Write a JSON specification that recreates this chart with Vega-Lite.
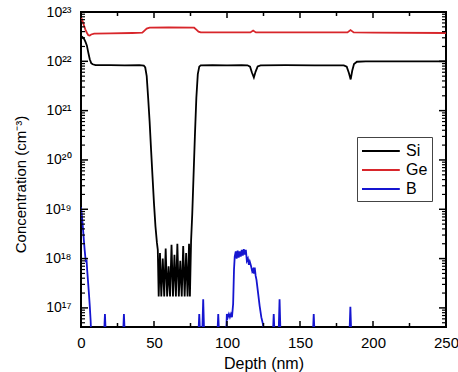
{
  "$schema": "https://vega.github.io/schema/vega-lite/v6.json",
  "width": 365,
  "height": 315,
  "autosize": {"type": "none"},
  "padding": {"left": 81, "top": 12, "right": 12, "bottom": 45},
  "background": "white",
  "config": {
    "view": {"stroke": "black", "strokeWidth": 2},
    "font": "Liberation Sans",
    "axis": {
      "grid": false,
      "domain": false,
      "ticks": false,
      "labelColor": "black",
      "titleColor": "black",
      "labelFont": "Liberation Sans",
      "titleFont": "Liberation Sans",
      "titleFontWeight": "normal"
    }
  },
  "datasets": {
    "profiles": [
      {"series": "Si", "depth": 0, "conc": 2.8e22},
      {"series": "Si", "depth": 1, "conc": 3.1e22},
      {"series": "Si", "depth": 2, "conc": 2.9e22},
      {"series": "Si", "depth": 3, "conc": 2.5e22},
      {"series": "Si", "depth": 4, "conc": 2.1e22},
      {"series": "Si", "depth": 5, "conc": 1.5e22},
      {"series": "Si", "depth": 6, "conc": 1.1e22},
      {"series": "Si", "depth": 7, "conc": 9.2e21},
      {"series": "Si", "depth": 8, "conc": 8.7e21},
      {"series": "Si", "depth": 10, "conc": 8.4e21},
      {"series": "Si", "depth": 20, "conc": 8.4e21},
      {"series": "Si", "depth": 30, "conc": 8.3e21},
      {"series": "Si", "depth": 40, "conc": 8.4e21},
      {"series": "Si", "depth": 43, "conc": 8.2e21},
      {"series": "Si", "depth": 44, "conc": 7.5e21},
      {"series": "Si", "depth": 45, "conc": 5e21},
      {"series": "Si", "depth": 46, "conc": 1.8e21},
      {"series": "Si", "depth": 47, "conc": 6e20},
      {"series": "Si", "depth": 48, "conc": 1.6e20},
      {"series": "Si", "depth": 49, "conc": 4.5e19},
      {"series": "Si", "depth": 50, "conc": 1.3e19},
      {"series": "Si", "depth": 51, "conc": 4.5e18},
      {"series": "Si", "depth": 52, "conc": 2.1e18},
      {"series": "Si", "depth": 52.6, "conc": 1.5e18},
      {"series": "Si", "depth": 53.2, "conc": 1.7e17},
      {"series": "Si", "depth": 54.1, "conc": 1.3e18},
      {"series": "Si", "depth": 55, "conc": 1.7e17},
      {"series": "Si", "depth": 56, "conc": 1.0e18},
      {"series": "Si", "depth": 57, "conc": 1.7e17},
      {"series": "Si", "depth": 58, "conc": 1.6e18},
      {"series": "Si", "depth": 59, "conc": 1.7e17},
      {"series": "Si", "depth": 60, "conc": 7e17},
      {"series": "Si", "depth": 61, "conc": 1.7e17},
      {"series": "Si", "depth": 62, "conc": 1.9e18},
      {"series": "Si", "depth": 63, "conc": 1.7e17},
      {"series": "Si", "depth": 64, "conc": 1.2e18},
      {"series": "Si", "depth": 65, "conc": 1.7e17},
      {"series": "Si", "depth": 66, "conc": 2e18},
      {"series": "Si", "depth": 67, "conc": 1.7e17},
      {"series": "Si", "depth": 68, "conc": 9e17},
      {"series": "Si", "depth": 69, "conc": 1.7e17},
      {"series": "Si", "depth": 70, "conc": 1.8e18},
      {"series": "Si", "depth": 71, "conc": 1.7e17},
      {"series": "Si", "depth": 72, "conc": 1.3e18},
      {"series": "Si", "depth": 73, "conc": 1.7e17},
      {"series": "Si", "depth": 74, "conc": 2e18},
      {"series": "Si", "depth": 74.6, "conc": 1.7e17},
      {"series": "Si", "depth": 75.4, "conc": 2.3e18},
      {"series": "Si", "depth": 76.2, "conc": 8e18},
      {"series": "Si", "depth": 77, "conc": 4e19},
      {"series": "Si", "depth": 78, "conc": 3e20},
      {"series": "Si", "depth": 79, "conc": 1.8e21},
      {"series": "Si", "depth": 80, "conc": 5.5e21},
      {"series": "Si", "depth": 81, "conc": 7.8e21},
      {"series": "Si", "depth": 82, "conc": 8.3e21},
      {"series": "Si", "depth": 90, "conc": 8.4e21},
      {"series": "Si", "depth": 100, "conc": 8.3e21},
      {"series": "Si", "depth": 110, "conc": 8.4e21},
      {"series": "Si", "depth": 114, "conc": 8.3e21},
      {"series": "Si", "depth": 115.8, "conc": 7.8e21},
      {"series": "Si", "depth": 117, "conc": 6e21},
      {"series": "Si", "depth": 118.4, "conc": 4.7e21},
      {"series": "Si", "depth": 119.6, "conc": 6.2e21},
      {"series": "Si", "depth": 121, "conc": 7.9e21},
      {"series": "Si", "depth": 123, "conc": 8.3e21},
      {"series": "Si", "depth": 140, "conc": 8.4e21},
      {"series": "Si", "depth": 160, "conc": 8.3e21},
      {"series": "Si", "depth": 180, "conc": 8.3e21},
      {"series": "Si", "depth": 182, "conc": 7.8e21},
      {"series": "Si", "depth": 183.5, "conc": 5.8e21},
      {"series": "Si", "depth": 184.7, "conc": 4.3e21},
      {"series": "Si", "depth": 185.8, "conc": 6.5e21},
      {"series": "Si", "depth": 187, "conc": 8.8e21},
      {"series": "Si", "depth": 189, "conc": 9.8e21},
      {"series": "Si", "depth": 195, "conc": 1e22},
      {"series": "Si", "depth": 220, "conc": 1e22},
      {"series": "Si", "depth": 250, "conc": 1e22},

      {"series": "Ge", "depth": 0, "conc": 7.8e22},
      {"series": "Ge", "depth": 1, "conc": 6.6e22},
      {"series": "Ge", "depth": 2, "conc": 5.4e22},
      {"series": "Ge", "depth": 3, "conc": 4.4e22},
      {"series": "Ge", "depth": 4, "conc": 3.8e22},
      {"series": "Ge", "depth": 5, "conc": 3.4e22},
      {"series": "Ge", "depth": 6, "conc": 3.35e22},
      {"series": "Ge", "depth": 7, "conc": 3.5e22},
      {"series": "Ge", "depth": 9, "conc": 3.65e22},
      {"series": "Ge", "depth": 20, "conc": 3.7e22},
      {"series": "Ge", "depth": 35, "conc": 3.75e22},
      {"series": "Ge", "depth": 42, "conc": 3.8e22},
      {"series": "Ge", "depth": 43.5, "conc": 4.2e22},
      {"series": "Ge", "depth": 45, "conc": 4.6e22},
      {"series": "Ge", "depth": 47, "conc": 4.8e22},
      {"series": "Ge", "depth": 60, "conc": 4.85e22},
      {"series": "Ge", "depth": 77.5, "conc": 4.8e22},
      {"series": "Ge", "depth": 79, "conc": 4.4e22},
      {"series": "Ge", "depth": 80.5, "conc": 4.0e22},
      {"series": "Ge", "depth": 82, "conc": 3.85e22},
      {"series": "Ge", "depth": 100, "conc": 3.85e22},
      {"series": "Ge", "depth": 116, "conc": 3.85e22},
      {"series": "Ge", "depth": 117.9, "conc": 4.2e22},
      {"series": "Ge", "depth": 119.8, "conc": 3.85e22},
      {"series": "Ge", "depth": 150, "conc": 3.85e22},
      {"series": "Ge", "depth": 182.5, "conc": 3.85e22},
      {"series": "Ge", "depth": 184.6, "conc": 4.3e22},
      {"series": "Ge", "depth": 186.8, "conc": 3.85e22},
      {"series": "Ge", "depth": 200, "conc": 3.8e22},
      {"series": "Ge", "depth": 250, "conc": 3.75e22},

      {"series": "B", "depth": 0, "conc": 1.1e19},
      {"series": "B", "depth": 0.5, "conc": 8e18},
      {"series": "B", "depth": 1, "conc": 5.5e18},
      {"series": "B", "depth": 1.5, "conc": 3.6e18},
      {"series": "B", "depth": 2, "conc": 2.3e18},
      {"series": "B", "depth": 2.5, "conc": 1.5e18},
      {"series": "B", "depth": 3, "conc": 1.05e18},
      {"series": "B", "depth": 3.4, "conc": 8.5e17},
      {"series": "B", "depth": 3.8, "conc": 9.5e17},
      {"series": "B", "depth": 4.2, "conc": 6e17},
      {"series": "B", "depth": 4.8, "conc": 3.5e17},
      {"series": "B", "depth": 5.4, "conc": 2e17},
      {"series": "B", "depth": 6, "conc": 1.1e17},
      {"series": "B", "depth": 6.6, "conc": 5.5e16},
      {"series": "B", "depth": 7.2, "conc": 2e16},
      {"series": "B", "depth": 15.6, "conc": 2e16},
      {"series": "B", "depth": 16.4, "conc": 7.5e16},
      {"series": "B", "depth": 17.2, "conc": 2e16},
      {"series": "B", "depth": 28.6, "conc": 2e16},
      {"series": "B", "depth": 29.4, "conc": 7.5e16},
      {"series": "B", "depth": 30.2, "conc": 2e16},
      {"series": "B", "depth": 80.2, "conc": 2e16},
      {"series": "B", "depth": 81, "conc": 7.5e16},
      {"series": "B", "depth": 81.8, "conc": 2e16},
      {"series": "B", "depth": 82.9, "conc": 2e16},
      {"series": "B", "depth": 83.7, "conc": 1.5e17},
      {"series": "B", "depth": 84.5, "conc": 2e16},
      {"series": "B", "depth": 93.2, "conc": 2e16},
      {"series": "B", "depth": 94, "conc": 7.5e16},
      {"series": "B", "depth": 94.8, "conc": 2e16},
      {"series": "B", "depth": 99.2, "conc": 2e16},
      {"series": "B", "depth": 99.9, "conc": 7.5e16},
      {"series": "B", "depth": 100.6, "conc": 6.5e16},
      {"series": "B", "depth": 101.3, "conc": 7.5e16},
      {"series": "B", "depth": 102, "conc": 6.5e16},
      {"series": "B", "depth": 102.7, "conc": 7.5e16},
      {"series": "B", "depth": 103.4, "conc": 6.5e16},
      {"series": "B", "depth": 104.2, "conc": 1.2e17},
      {"series": "B", "depth": 104.8, "conc": 6e17},
      {"series": "B", "depth": 105.3, "conc": 1.1e18},
      {"series": "B", "depth": 106, "conc": 1.4e18},
      {"series": "B", "depth": 106.6, "conc": 1.0e18},
      {"series": "B", "depth": 107.3, "conc": 1.45e18},
      {"series": "B", "depth": 108, "conc": 1.05e18},
      {"series": "B", "depth": 108.7, "conc": 1.4e18},
      {"series": "B", "depth": 109.4, "conc": 1.1e18},
      {"series": "B", "depth": 110.1, "conc": 1.5e18},
      {"series": "B", "depth": 110.8, "conc": 1.15e18},
      {"series": "B", "depth": 111.5, "conc": 1.55e18},
      {"series": "B", "depth": 112.2, "conc": 1.2e18},
      {"series": "B", "depth": 112.9, "conc": 1.5e18},
      {"series": "B", "depth": 113.6, "conc": 9e17},
      {"series": "B", "depth": 114.3, "conc": 1.0e18},
      {"series": "B", "depth": 115, "conc": 7.5e17},
      {"series": "B", "depth": 115.6, "conc": 8.7e17},
      {"series": "B", "depth": 116.5, "conc": 7e17},
      {"series": "B", "depth": 117.3, "conc": 5.5e17},
      {"series": "B", "depth": 117.9, "conc": 6e17},
      {"series": "B", "depth": 118.5, "conc": 5e17},
      {"series": "B", "depth": 119, "conc": 6.6e17},
      {"series": "B", "depth": 119.6, "conc": 4.5e17},
      {"series": "B", "depth": 120.2, "conc": 3.7e17},
      {"series": "B", "depth": 121.3, "conc": 2e17},
      {"series": "B", "depth": 122.4, "conc": 1.07e17},
      {"series": "B", "depth": 123.5, "conc": 6.5e16},
      {"series": "B", "depth": 124.7, "conc": 4.6e16},
      {"series": "B", "depth": 125.4, "conc": 2e16},
      {"series": "B", "depth": 131.2, "conc": 2e16},
      {"series": "B", "depth": 132, "conc": 7.5e16},
      {"series": "B", "depth": 132.8, "conc": 2e16},
      {"series": "B", "depth": 135.2, "conc": 2e16},
      {"series": "B", "depth": 136, "conc": 1.5e17},
      {"series": "B", "depth": 136.8, "conc": 2e16},
      {"series": "B", "depth": 158.6, "conc": 2e16},
      {"series": "B", "depth": 159.4, "conc": 7.5e16},
      {"series": "B", "depth": 160.2, "conc": 2e16},
      {"series": "B", "depth": 183.7, "conc": 2e16},
      {"series": "B", "depth": 184.5, "conc": 1.05e17},
      {"series": "B", "depth": 185.3, "conc": 2e16},
      {"series": "B", "depth": 250, "conc": 2e16}
    ],
    "depthMajor": [{"depth": 0}, {"depth": 50}, {"depth": 100}, {"depth": 150}, {"depth": 200}, {"depth": 250}],
    "depthMinor": [{"depth": 25}, {"depth": 75}, {"depth": 125}, {"depth": 175}, {"depth": 225}],
    "concMajor": [{"conc": 1e17}, {"conc": 1e18}, {"conc": 1e19}, {"conc": 1e20}, {"conc": 1e21}, {"conc": 1e22}, {"conc": 1e23}],
    "concMinor": [
      {"conc": 5e16}, {"conc": 6e16}, {"conc": 7e16}, {"conc": 8e16}, {"conc": 9e16},
      {"conc": 2e17}, {"conc": 3e17}, {"conc": 4e17}, {"conc": 5e17}, {"conc": 6e17}, {"conc": 7e17}, {"conc": 8e17}, {"conc": 9e17},
      {"conc": 2e18}, {"conc": 3e18}, {"conc": 4e18}, {"conc": 5e18}, {"conc": 6e18}, {"conc": 7e18}, {"conc": 8e18}, {"conc": 9e18},
      {"conc": 2e19}, {"conc": 3e19}, {"conc": 4e19}, {"conc": 5e19}, {"conc": 6e19}, {"conc": 7e19}, {"conc": 8e19}, {"conc": 9e19},
      {"conc": 2e20}, {"conc": 3e20}, {"conc": 4e20}, {"conc": 5e20}, {"conc": 6e20}, {"conc": 7e20}, {"conc": 8e20}, {"conc": 9e20},
      {"conc": 2e21}, {"conc": 3e21}, {"conc": 4e21}, {"conc": 5e21}, {"conc": 6e21}, {"conc": 7e21}, {"conc": 8e21}, {"conc": 9e21},
      {"conc": 2e22}, {"conc": 3e22}, {"conc": 4e22}, {"conc": 5e22}, {"conc": 6e22}, {"conc": 7e22}, {"conc": 8e22}, {"conc": 9e22}
    ]
  },
  "layer": [
    {
      "data": {"name": "profiles"},
      "mark": {"type": "line", "strokeWidth": 1.8, "clip": true},
      "encoding": {
        "x": {
          "field": "depth",
          "type": "quantitative",
          "scale": {"domain": [0, 250], "nice": false, "zero": false},
          "axis": {
            "orient": "bottom",
            "values": [0, 50, 100, 150, 200, 250],
            "labelPadding": 8,
            "labelFontSize": 15,
            "labelFlush": false,
            "title": "Depth (nm)",
            "titleFontSize": 16,
            "titlePadding": 5
          }
        },
        "y": {
          "field": "conc",
          "type": "quantitative",
          "scale": {"type": "log", "domain": [4.1e16, 1e23], "nice": false},
          "axis": {
            "orient": "left",
            "values": [1e17, 1e18, 1e19, 1e20, 1e21, 1e22, 1e23],
            "labelPadding": 10,
            "labelFontSize": 14,
            "labelFlush": false,
            "labelExpr": "'10' + substring('⁰¹²³⁴⁵⁶⁷⁸⁹', floor(round(log(datum.value)/LN10)/10), floor(round(log(datum.value)/LN10)/10)+1) + substring('⁰¹²³⁴⁵⁶⁷⁸⁹', round(log(datum.value)/LN10)%10, round(log(datum.value)/LN10)%10+1)",
            "title": "Concentration (cm⁻³)",
            "titleFontSize": 15,
            "titlePadding": 16,
            "titleY": 172
          }
        },
        "color": {
          "field": "series",
          "type": "nominal",
          "scale": {"domain": ["Si", "Ge", "B"], "range": ["#000000", "#d8262b", "#1515d0"]},
          "legend": {
            "title": null,
            "orient": "none",
            "legendX": 276,
            "legendY": 125,
            "symbolType": "M-1,0H3.2",
            "symbolSize": 324,
            "symbolStrokeWidth": 2,
            "labelFontSize": 16,
            "labelFont": "Liberation Sans",
            "labelColor": "black",
            "labelOffset": 25,
            "strokeColor": "#444444",
            "fillColor": "white",
            "padding": 4,
            "rowPadding": 1
          }
        }
      }
    },
    {
      "data": {"name": "depthMajor"},
      "mark": {"type": "tick", "orient": "vertical", "size": 12, "thickness": 1.5, "color": "black", "opacity": 1, "clip": true},
      "encoding": {
        "x": {"field": "depth", "type": "quantitative", "axis": null},
        "y": {"datum": 4.1e16, "type": "quantitative", "axis": null}
      }
    },
    {
      "data": {"name": "depthMajor"},
      "mark": {"type": "tick", "orient": "vertical", "size": 12, "thickness": 1.5, "color": "black", "opacity": 1, "clip": true},
      "encoding": {
        "x": {"field": "depth", "type": "quantitative", "axis": null},
        "y": {"datum": 1e23, "type": "quantitative", "axis": null}
      }
    },
    {
      "data": {"name": "depthMinor"},
      "mark": {"type": "tick", "orient": "vertical", "size": 8, "thickness": 1.5, "color": "black", "opacity": 1, "clip": true},
      "encoding": {
        "x": {"field": "depth", "type": "quantitative", "axis": null},
        "y": {"datum": 4.1e16, "type": "quantitative", "axis": null}
      }
    },
    {
      "data": {"name": "depthMinor"},
      "mark": {"type": "tick", "orient": "vertical", "size": 8, "thickness": 1.5, "color": "black", "opacity": 1, "clip": true},
      "encoding": {
        "x": {"field": "depth", "type": "quantitative", "axis": null},
        "y": {"datum": 1e23, "type": "quantitative", "axis": null}
      }
    },
    {
      "data": {"name": "concMajor"},
      "mark": {"type": "tick", "orient": "horizontal", "size": 14, "thickness": 1.5, "color": "black", "opacity": 1, "clip": true},
      "encoding": {
        "y": {"field": "conc", "type": "quantitative", "axis": null},
        "x": {"datum": 0, "type": "quantitative", "axis": null}
      }
    },
    {
      "data": {"name": "concMajor"},
      "mark": {"type": "tick", "orient": "horizontal", "size": 14, "thickness": 1.5, "color": "black", "opacity": 1, "clip": true},
      "encoding": {
        "y": {"field": "conc", "type": "quantitative", "axis": null},
        "x": {"datum": 250, "type": "quantitative", "axis": null}
      }
    },
    {
      "data": {"name": "concMinor"},
      "mark": {"type": "tick", "orient": "horizontal", "size": 8, "thickness": 1.2, "color": "black", "opacity": 1, "clip": true},
      "encoding": {
        "y": {"field": "conc", "type": "quantitative", "axis": null},
        "x": {"datum": 0, "type": "quantitative", "axis": null}
      }
    },
    {
      "data": {"name": "concMinor"},
      "mark": {"type": "tick", "orient": "horizontal", "size": 8, "thickness": 1.2, "color": "black", "opacity": 1, "clip": true},
      "encoding": {
        "y": {"field": "conc", "type": "quantitative", "axis": null},
        "x": {"datum": 250, "type": "quantitative", "axis": null}
      }
    }
  ],
  "resolve": {"axis": {"x": "independent", "y": "independent"}}
}
